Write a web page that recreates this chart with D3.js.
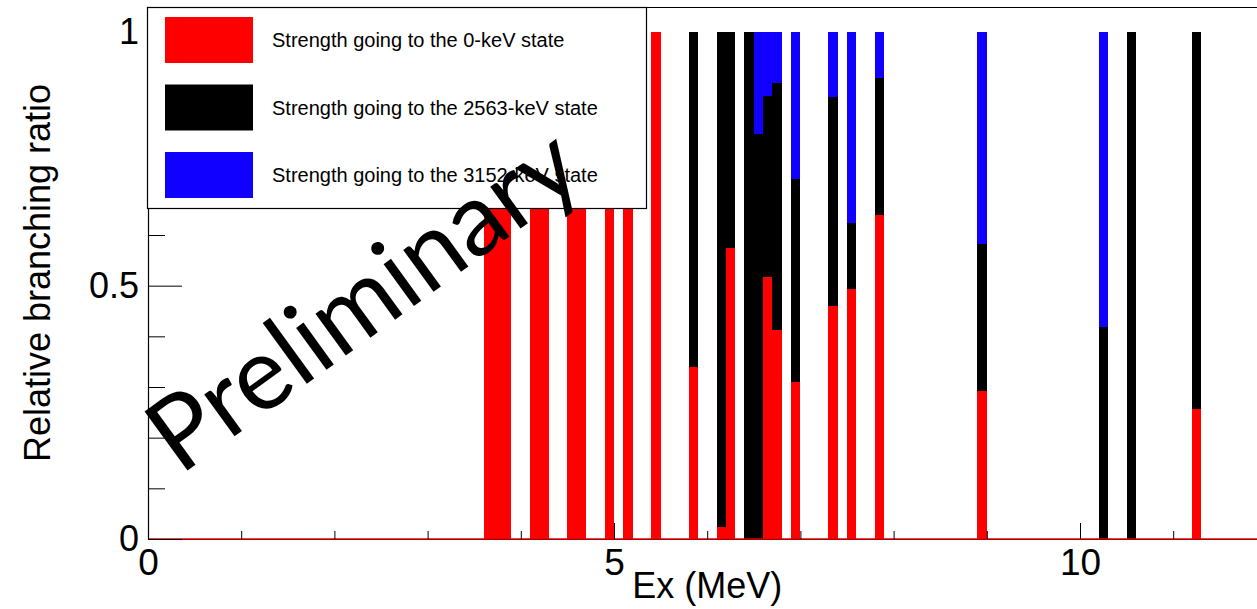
<!DOCTYPE html>
<html>
<head>
<meta charset="utf-8">
<script src="https://cdn.jsdelivr.net/npm/d3@7"></script>
<style>
  body { margin: 0; background: #ffffff; }
  svg { display: block; }
  text { font-family: "Liberation Sans", Arial, Helvetica, sans-serif; fill: #000; }
</style>
</head>
<body>
<svg id="chart" width="1257" height="609"></svg>
<script>
// Excitation-energy bins (lower edges, MeV) and their width
const binLow   = [3.6, 3.7, 3.8, 4.1, 4.2, 4.5, 4.6, 4.9, 5.1, 5.4,
                  5.8, 6.1, 6.2, 6.4, 6.5, 6.6, 6.7, 6.9, 7.3, 7.5,
                  7.8, 8.9, 10.2, 10.5, 11.2];
const binWidth = 0.1;

// Relative branching ratio to each final state, per bin
const toState0    = [1, 1, 1, 1, 1, 1, 1, 1, 1, 1,
                     0.34, 0.024, 0.574, 0, 0, 0.517, 0.412, 0.31, 0.46, 0.493,
                     0.639, 0.292, 0, 0, 0.256];
const toState2563 = [0, 0, 0, 0, 0, 0, 0, 0, 0, 0,
                     0.66, 0.976, 0.426, 1, 0.8, 0.357, 0.488, 0.40, 0.412, 0.13,
                     0.27, 0.29, 0.418, 1, 0.744];
const toState3152 = [0, 0, 0, 0, 0, 0, 0, 0, 0, 0,
                     0, 0, 0, 0, 0.2, 0.126, 0.10, 0.29, 0.128, 0.377,
                     0.091, 0.418, 0.582, 0, 0];

const seriesKeys   = ["s0", "s2563", "s3152"];
const seriesLabels = ["Strength going to the 0-keV state",
                      "Strength going to the 2563-keV state",
                      "Strength going to the 3152-keV state"];
const seriesColors = ["#ff0000", "#000000", "#1000ff"];

const xMajorTicks = [0, 5, 10];
const xMinorTicks = [1, 2, 3, 4, 6, 7, 8, 9, 11];
const yMajorTicks = [0, 0.5, 1];
const yMinorTicks = [0.1, 0.2, 0.3, 0.4, 0.6, 0.7, 0.8, 0.9, 1.0];

const xTitle = "Ex (MeV)";
const yTitle = "Relative branching ratio";
const stamp  = "Preliminary";

// Frame geometry
const frame = { left: 148, top: 7, right: 1266.4, bottom: 539 };
const svg = d3.select("#chart");
svg.append("rect").attr("width", 1257).attr("height", 609).attr("fill", "#fff");

const x = d3.scaleLinear().domain([0, 12]).range([frame.left, frame.right]);
const y = d3.scaleLinear().domain([0, 1.05]).range([frame.bottom, frame.top]);

// Stacked histogram
const rows = binLow.map((lo, i) => ({
  lo, s0: toState0[i], s2563: toState2563[i], s3152: toState3152[i]
}));
const stacked = d3.stack().keys(seriesKeys)(rows);

const bars = svg.append("g").attr("shape-rendering", "crispEdges");
stacked.forEach((layer, k) => {
  bars.append("g").attr("fill", seriesColors[k])
    .selectAll("rect")
    .data(layer.filter(d => d[1] - d[0] > 0))
    .join("rect")
    .attr("x", d => x(d.data.lo))
    .attr("width", d => x(d.data.lo + binWidth) - x(d.data.lo))
    .attr("y", d => y(d[1]))
    .attr("height", d => y(d[0]) - y(d[1]));
});

// Frame (left, top, bottom)
svg.append("path")
  .attr("d", `M${frame.left},${frame.bottom}V${frame.top}H1257M${frame.left},${frame.bottom}H1257`)
  .attr("stroke", "#000").attr("stroke-width", 1.2).attr("fill", "none")
  .attr("transform", "translate(0.5,0.5)");
// zero line of the lowest histogram
svg.append("line")
  .attr("x1", x(0)).attr("x2", x(12)).attr("y1", y(0)).attr("y2", y(0))
  .attr("stroke", "#e00000").attr("stroke-width", 1.6);

// Axes
const fontAxis = "36px";
const yMajor = svg.append("g").attr("transform", `translate(${frame.left},0)`)
  .call(d3.axisLeft(y).tickValues(yMajorTicks).tickSizeInner(-34).tickSizeOuter(0)
        .tickPadding(9).tickFormat(d3.format("")));
yMajor.select(".domain").remove();
yMajor.selectAll("text").style("font-size", fontAxis).attr("font-family", null);

const yMinor = svg.append("g").attr("transform", `translate(${frame.left},0)`)
  .call(d3.axisLeft(y).tickValues(yMinorTicks).tickSizeInner(-17).tickSizeOuter(0).tickFormat(""));
yMinor.select(".domain").remove();

const xMajor = svg.append("g").attr("transform", `translate(0,${frame.bottom})`)
  .call(d3.axisBottom(x).tickValues(xMajorTicks).tickSizeInner(-16).tickSizeOuter(0)
        .tickPadding(10).tickFormat(d3.format("")));
xMajor.select(".domain").remove();
xMajor.selectAll("text").style("font-size", "37px").attr("font-family", null);

const xMinor = svg.append("g").attr("transform", `translate(0,${frame.bottom})`)
  .call(d3.axisBottom(x).tickValues(xMinorTicks).tickSizeInner(-8).tickSizeOuter(0).tickFormat(""));
xMinor.select(".domain").remove();

svg.selectAll(".tick line").attr("stroke", "#000");

// Axis titles
svg.append("text")
  .attr("x", (frame.left + frame.right) / 2).attr("y", 598)
  .attr("text-anchor", "middle").style("font-size", fontAxis)
  .text(xTitle);
svg.append("text")
  .attr("transform", `translate(50,${(frame.top + frame.bottom) / 2}) rotate(-90)`)
  .attr("text-anchor", "middle").style("font-size", fontAxis)
  .text(yTitle);

// Legend
const legend = svg.append("g");
legend.append("rect")
  .attr("x", 147.5).attr("y", 7.5).attr("width", 499).attr("height", 201)
  .attr("fill", "#fff").attr("stroke", "#000").attr("stroke-width", 1.2);
const rowCenters = [40, 107.5, 175];
seriesLabels.forEach((lab, k) => {
  legend.append("rect")
    .attr("x", 165).attr("y", rowCenters[k] - 23).attr("width", 88).attr("height", 46)
    .attr("fill", seriesColors[k]);
  legend.append("text")
    .attr("x", 272).attr("y", rowCenters[k] + 7)
    .style("font-size", "20px")
    .text(lab);
});

// Watermark
svg.append("text")
  .attr("transform", "translate(180,476) rotate(-36)")
  .style("font-family", "Lato, 'Noto Sans', sans-serif")
  .style("font-size", "102px")
  .text(stamp);
</script>
</body>
</html>
